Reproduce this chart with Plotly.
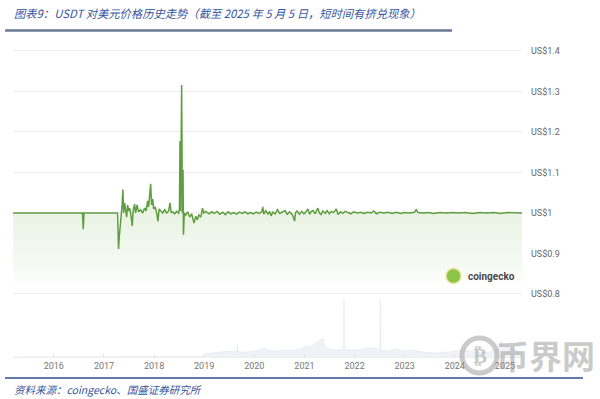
import plotly.graph_objects as go

# ---------------- data ----------------
price_dates = [
    "2015-03-10", "2016-07-28", "2016-08-03", "2016-08-08", "2017-04-10", "2017-04-13",
    "2017-04-17", "2017-04-22", "2017-04-28", "2017-05-07", "2017-05-13", "2017-05-19",
    "2017-05-24", "2017-05-31", "2017-06-07", "2017-06-15", "2017-06-22", "2017-06-29",
    "2017-07-07", "2017-07-14", "2017-07-26", "2017-08-01", "2017-08-12", "2017-08-19",
    "2017-08-30", "2017-09-10", "2017-09-25", "2017-10-10", "2017-10-24", "2017-11-04",
    "2017-11-15", "2017-11-22", "2017-11-30", "2017-12-07", "2017-12-14", "2017-12-22",
    "2017-12-29", "2018-01-09", "2018-01-20", "2018-01-29", "2018-02-07", "2018-02-18",
    "2018-03-05", "2018-03-19", "2018-04-03", "2018-04-17", "2018-04-27", "2018-05-06",
    "2018-05-17", "2018-05-31", "2018-06-15", "2018-06-29", "2018-07-05", "2018-07-09",
    "2018-07-13", "2018-07-21", "2018-07-26", "2018-07-31", "2018-08-03", "2018-08-09",
    "2018-08-19", "2018-09-03", "2018-09-18", "2018-10-02", "2018-10-19", "2018-11-01",
    "2018-11-13", "2018-11-23", "2018-12-08", "2018-12-20", "2018-12-29", "2019-01-13",
    "2019-02-05", "2019-02-25", "2019-03-15", "2019-04-05", "2019-04-25", "2019-05-15",
    "2019-06-05", "2019-06-25", "2019-07-15", "2019-08-05", "2019-08-25", "2019-09-15",
    "2019-10-05", "2019-10-25", "2019-11-15", "2019-12-05", "2019-12-25", "2020-01-15",
    "2020-02-05", "2020-02-25", "2020-03-03", "2020-03-10", "2020-03-25", "2020-04-10",
    "2020-04-22", "2020-05-02", "2020-05-15", "2020-06-01", "2020-06-18", "2020-07-05",
    "2020-07-22", "2020-08-12", "2020-08-28", "2020-09-15", "2020-10-05", "2020-10-21",
    "2020-10-28", "2020-11-08", "2020-11-25", "2020-12-12", "2020-12-28", "2021-01-12",
    "2021-01-25", "2021-02-08", "2021-02-20", "2021-03-05", "2021-03-20", "2021-04-08",
    "2021-04-20", "2021-05-02", "2021-05-15", "2021-06-01", "2021-06-15", "2021-07-01",
    "2021-07-15", "2021-08-01", "2021-08-20", "2021-09-03", "2021-09-20", "2021-10-08",
    "2021-10-25", "2021-11-15", "2021-12-05", "2021-12-25", "2022-01-20", "2022-02-15",
    "2022-03-10", "2022-04-05", "2022-05-01", "2022-05-20", "2022-06-10", "2022-07-05",
    "2022-08-01", "2022-09-01", "2022-10-01", "2022-11-01", "2022-12-01", "2023-01-01",
    "2023-02-01", "2023-03-12", "2023-03-26", "2023-04-10", "2023-05-15", "2023-06-20",
    "2023-08-01", "2023-09-15", "2023-11-01", "2023-12-15", "2024-02-01", "2024-03-20",
    "2024-05-10", "2024-07-01", "2024-08-20", "2024-10-10", "2024-12-01", "2025-01-20",
    "2025-03-10", "2025-05-05",
]
price_values = [
    1.0, 1.0, 0.96, 1.0, 1.0, 0.93,
    0.911, 0.94, 0.965, 0.983, 1.02, 1.058,
    1.0, 1.025, 1.005, 0.99, 1.02, 1.005,
    1.012, 1.0, 0.968, 1.005, 1.022, 1.0,
    1.02, 1.003, 1.008, 1.0, 1.012, 1.005,
    1.03, 1.015, 1.045, 1.072, 1.02, 1.035,
    1.01, 1.015, 1.0, 0.979, 1.01, 1.005,
    1.0, 1.008, 1.0, 1.005, 1.025, 1.0,
    1.003, 0.998, 1.004, 1.0, 1.01, 1.178,
    1.005, 1.316, 1.0, 1.107, 0.946, 1.0,
    0.995, 1.003, 0.99, 0.998, 0.975, 0.992,
    0.983, 0.995, 0.99, 1.012, 1.0, 1.004,
    0.998, 1.003, 0.999, 1.004, 0.997, 1.002,
    0.996, 1.003, 0.998, 1.001, 0.997, 1.002,
    0.999, 1.003, 0.998, 1.001, 0.998, 1.002,
    0.999, 1.003, 1.015, 0.997, 1.006, 0.998,
    1.004, 0.993, 1.002, 0.998, 1.008, 0.999,
    1.003, 1.006, 0.997, 1.003, 0.996, 0.98,
    1.001, 1.005, 0.997, 1.004, 0.998, 1.003,
    1.01, 0.997, 1.004, 1.006, 0.998, 1.012,
    1.0, 0.996, 1.005, 0.999, 1.006, 0.998,
    1.004, 1.001, 1.01, 0.996, 1.003, 0.999,
    1.004, 1.001, 0.998, 1.003, 1.0, 1.002,
    0.999, 1.002, 1.0, 1.005, 0.998, 1.002,
    1.0, 1.002, 0.999, 1.002, 0.999, 1.001,
    1.0, 1.002, 1.008, 1.001, 1.0, 1.001,
    0.999, 1.001, 1.0, 1.001, 1.0, 1.001,
    0.999, 1.001, 1.0, 1.001, 0.999, 1.001,
    1.0, 1.0,
]

volume_dates = [
    "2015-03-10", "2018-12-31", "2019-01-15", "2019-03-01", "2019-05-01", "2019-07-01",
    "2019-08-28", "2019-09-01", "2019-09-05", "2019-10-15", "2019-12-01", "2020-02-01",
    "2020-03-15", "2020-04-15", "2020-06-01", "2020-08-01", "2020-10-01", "2020-12-01",
    "2021-01-15", "2021-02-15", "2021-03-15", "2021-04-10", "2021-05-15", "2021-05-28",
    "2021-06-15", "2021-07-15", "2021-08-15", "2021-10-14", "2021-10-16", "2021-10-18",
    "2021-12-01", "2022-02-01", "2022-05-01", "2022-07-05", "2022-07-07", "2022-07-09",
    "2022-09-01", "2022-11-01", "2023-01-01", "2023-03-01", "2023-06-01", "2023-09-01",
    "2023-12-01", "2024-03-01", "2024-06-01", "2024-09-01", "2024-11-15", "2024-12-08",
    "2024-12-22", "2025-01-15", "2025-02-15", "2025-03-15", "2025-04-15", "2025-05-05",
]
volume_values = [
    0.0, 0.01, 0.06, 0.07, 0.09, 0.1,
    0.1, 0.23, 0.1, 0.08, 0.09, 0.11,
    0.16, 0.12, 0.1, 0.12, 0.11, 0.14,
    0.2, 0.17, 0.22, 0.27, 0.32, 0.2,
    0.15, 0.14, 0.12, 0.13, 1.0, 0.13,
    0.12, 0.12, 0.16, 0.13, 1.0, 0.12,
    0.1, 0.14, 0.1, 0.12, 0.08, 0.07,
    0.09, 0.12, 0.08, 0.08, 0.15, 0.27,
    0.18, 0.2, 0.15, 0.12, 0.1, 0.08,
]

price_ticks = [0.8, 0.9, 1.0, 1.1, 1.2, 1.3, 1.4]
price_tick_labels = ["US$0.8", "US$0.9", "US$1", "US$1.1", "US$1.2", "US$1.3", "US$1.4"]

title_text = "图表9：USDT 对美元价格历史走势（截至 2025 年 5 月 5 日，短时间有挤兑现象）"
source_text = "资料来源：coingecko、国盛证券研究所"

W, H = 600, 399


def px(x):
    return x / W


def py(y):
    return 1 - y / H


fig = go.Figure()

fig.add_trace(go.Scatter(
    x=volume_dates, y=volume_values, xaxis="x", yaxis="y2",
    mode="lines", line=dict(color="rgba(222,225,236,0.8)", width=0.6),
    fill="tozeroy", fillcolor="rgba(234,236,244,0.7)", hoverinfo="skip",
))

fig.add_trace(go.Scatter(
    x=price_dates, y=price_values, xaxis="x", yaxis="y",
    mode="lines", line=dict(color="#5f9e40", width=1.5),
    fill="tozeroy",
    fillgradient=dict(
        type="vertical", start=0.8, stop=1.0,
        colorscale=[[0, "rgba(255,255,255,0)"], [0.35, "rgba(244,249,241,0.9)"],
                    [1, "rgba(234,243,228,1)"]],
    ),
))

FONT_TXT = "Noto Sans CJK SC"

fig.update_layout(
    width=W, height=H,
    margin=dict(l=0, r=0, t=0, b=0),
    paper_bgcolor="white", plot_bgcolor="white",
    showlegend=False,
    xaxis=dict(
        type="date", domain=[px(13), px(522)], range=["2015-03-10", "2025-05-05"],
        anchor="y2", showgrid=False, zeroline=False,
        showline=True, linecolor="#eeeeee", linewidth=1,
        ticks="inside", ticklen=3, tickcolor="#e4e4e4",
        dtick="M12", tick0="2016-01-01", tickformat="%Y",
        tickfont=dict(family="Roboto", size=9, color="#777777"),
    ),
    yaxis=dict(
        domain=[py(298), py(45)], range=[0.7901, 1.4148], anchor="x", side="right",
        tickvals=price_ticks, ticktext=price_tick_labels,
        showgrid=True, gridcolor="#ededed", gridwidth=1, zeroline=False,
        showline=False, ticks="", ticklabelstandoff=8,
        tickfont=dict(family="Roboto", size=9, color="#666666"),
    ),
    yaxis2=dict(
        domain=[py(357), py(299)], range=[0, 1.0], anchor="x",
        showgrid=False, zeroline=False, showticklabels=False, showline=False,
    ),
)

shapes = [
    dict(type="line", xref="paper", yref="paper", x0=px(5), x1=px(452), y0=py(30.5), y1=py(30.5),
         line=dict(color="#6b7a93", width=2.5)),
    dict(type="line", xref="paper", yref="paper", x0=px(5), x1=px(583), y0=py(378), y1=py(378),
         line=dict(color="#2f4d8c", width=1.5)),
    # coingecko logo
    dict(type="circle", xref="paper", yref="paper", x0=px(446), x1=px(461), y0=py(283.5), y1=py(268.5),
         fillcolor="#8cc447", line=dict(color="#e9e39a", width=1.5)),
    # watermark coin
    dict(type="circle", xref="paper", yref="paper", x0=px(462), x1=px(497), y0=py(373), y1=py(338),
         fillcolor="rgba(0,0,0,0)", line=dict(color="rgba(150,150,150,0.5)", width=5)),
]
fig.update_layout(shapes=shapes)

annotations = [
    dict(text=title_text, xref="paper", yref="paper", x=px(12), y=py(13), xanchor="left", yanchor="middle",
         showarrow=False, font=dict(family=FONT_TXT, size=11.3, color="#3556a0", style="italic")),
    dict(text=source_text, xref="paper", yref="paper", x=px(12), y=py(389), xanchor="left", yanchor="middle",
         showarrow=False, font=dict(family=FONT_TXT, size=10.5, color="#3556a0", style="italic")),
    dict(text="<b>coingecko</b>", xref="paper", yref="paper", x=px(466), y=py(276), xanchor="left", yanchor="middle",
         showarrow=False, font=dict(family="Roboto", size=10, color="#4a4a4a")),
    dict(text="<b>₿</b>", xref="paper", yref="paper", x=px(479.5), y=py(355.5), xanchor="center", yanchor="middle",
         showarrow=False, font=dict(family="DejaVu Sans", size=21, color="rgba(150,150,150,0.5)")),
    dict(text="<b>币界网</b>", xref="paper", yref="paper", x=px(545), y=py(355), xanchor="center", yanchor="middle",
         showarrow=False, font=dict(family=FONT_TXT, size=33, color="rgba(150,150,150,0.5)")),
]
fig.update_layout(annotations=annotations)

fig.write_html(
    "out.html",
    config={"displayModeBar": False},
    post_script="document.body.style.margin='0';document.body.style.padding='0';",
)
